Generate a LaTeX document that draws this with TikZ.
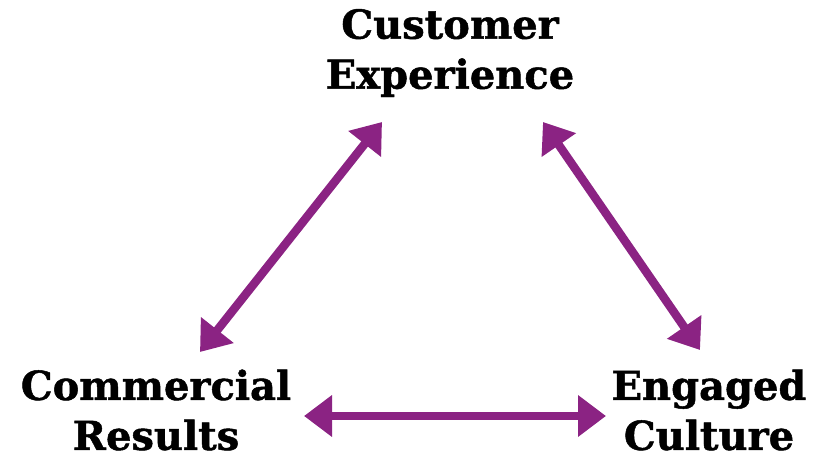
\documentclass[tikz,border=0pt]{standalone}
\usepackage{fontspec}
\setmainfont{DejaVu Serif}[BoldFeatures={FakeBold=1.2}]
\usetikzlibrary{arrows.meta}
\definecolor{plum}{HTML}{8B2383}
\begin{document}
\begin{tikzpicture}[x=1pt,y=-1pt,
  label/.style={align=center,font=\bfseries\fontsize{40}{50}\selectfont,inner sep=0pt},
  link/.style={draw=plum,line width=8.5pt,
    {Triangle[width=40pt,length=28pt]}-{Triangle[width=40pt,length=28pt]}}]
  \useasboundingbox (0,0) rectangle (815,457);
  \node[label] (cx) at (450,53) {Customer\\Experience};
  \node[label] (cr) at (156,410) {Commercial\\Results};
  \node[label] (ec) at (709,410) {Engaged\\Culture};
  \coordinate (a1) at (200,352);
  \coordinate (a2) at (382,122);
  \coordinate (b1) at (543,122);
  \coordinate (b2) at (700,350);
  \coordinate (c1) at (304,416);
  \coordinate (c2) at (606,416);
  \draw[link] (a1) -- (a2);
  \draw[link] (b1) -- (b2);
  \draw[link] (c1) -- (c2);
\end{tikzpicture}
\end{document}
